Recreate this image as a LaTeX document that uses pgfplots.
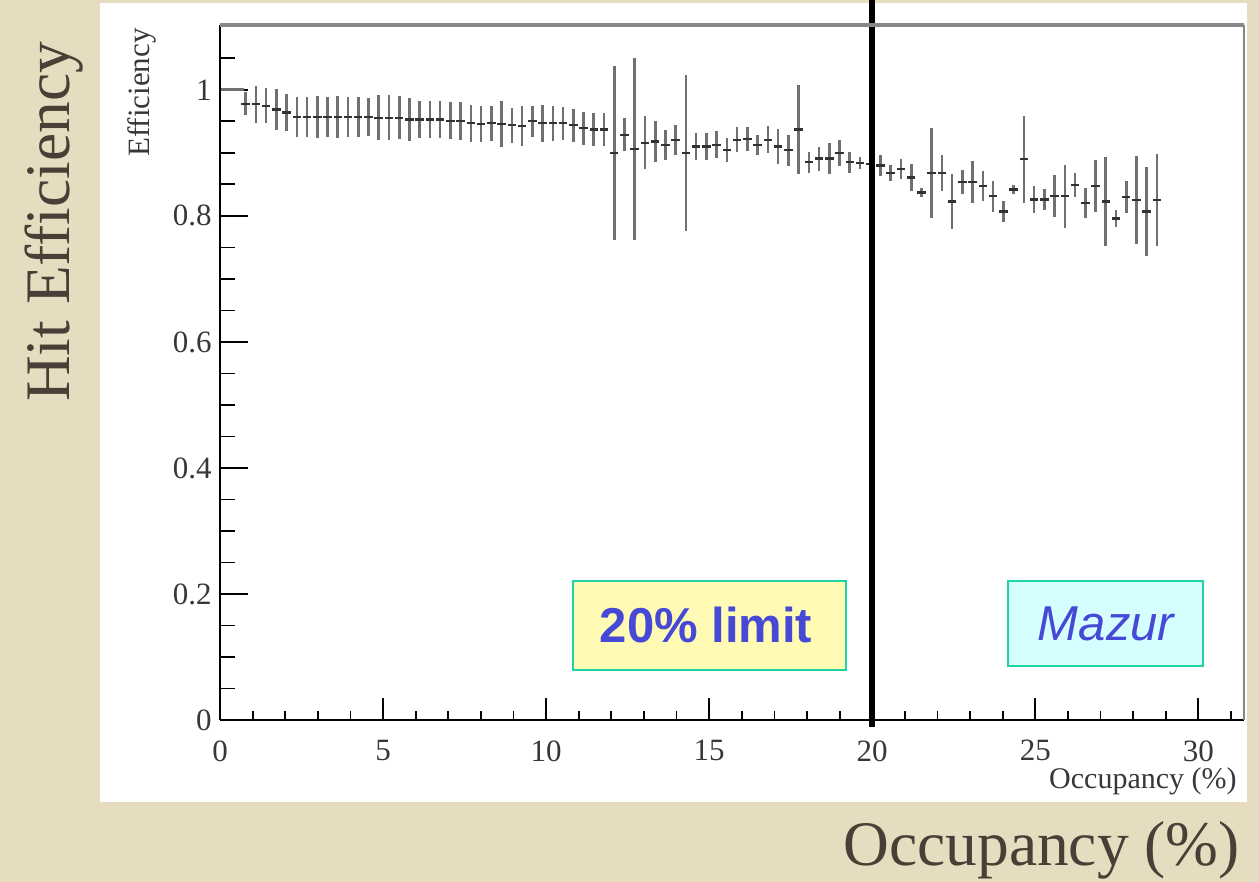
\documentclass[border=0pt]{standalone}
\usepackage{pgfplots}
\pgfplotsset{compat=1.18}
\usepackage{pgfplotstable}
\usepackage{fontspec}
\setmainfont{Liberation Serif}
\newfontfamily\boxfont{Liberation Sans}
\definecolor{bg}{RGB}{230,220,192}
\definecolor{slidetext}{RGB}{74,62,54}
\definecolor{boxblue}{RGB}{70,72,214}
\definecolor{boxedge}{RGB}{30,212,165}
\definecolor{yellowfill}{RGB}{255,251,180}
\definecolor{cyanfill}{RGB}{213,255,255}
\definecolor{errgray}{RGB}{112,112,112}
\definecolor{hbar}{RGB}{50,50,50}
\definecolor{ticklab}{RGB}{55,55,55}
\definecolor{framegray}{RGB}{135,135,135}

\pgfplotstableread{
x y ey
0.785 0.978 0.018
1.099 0.977 0.029
1.413 0.975 0.028
1.727 0.969 0.033
2.041 0.964 0.030
2.355 0.957 0.032
2.669 0.957 0.032
2.983 0.957 0.033
3.297 0.957 0.032
3.611 0.957 0.033
3.925 0.957 0.032
4.239 0.957 0.031
4.553 0.957 0.030
4.867 0.956 0.036
5.181 0.956 0.036
5.495 0.956 0.034
5.809 0.953 0.034
6.123 0.953 0.029
6.437 0.953 0.030
6.751 0.953 0.029
7.065 0.951 0.029
7.379 0.950 0.030
7.693 0.947 0.029
8.007 0.946 0.028
8.321 0.947 0.028
8.635 0.946 0.036
8.949 0.944 0.028
9.263 0.943 0.032
9.577 0.950 0.024
9.891 0.947 0.029
10.205 0.947 0.028
10.519 0.947 0.026
10.833 0.944 0.026
11.147 0.939 0.026
11.461 0.937 0.026
11.775 0.937 0.026
12.089 0.900 0.138
12.403 0.929 0.026
12.717 0.906 0.144
13.031 0.916 0.042
13.345 0.918 0.032
13.659 0.913 0.024
13.973 0.921 0.024
14.287 0.900 0.124
14.601 0.910 0.022
14.915 0.910 0.022
15.229 0.913 0.021
15.543 0.905 0.019
15.857 0.921 0.020
16.171 0.922 0.019
16.485 0.913 0.016
16.799 0.921 0.021
17.113 0.910 0.028
17.427 0.904 0.025
17.741 0.937 0.070
18.055 0.885 0.017
18.369 0.891 0.019
18.683 0.891 0.024
18.997 0.900 0.021
19.311 0.885 0.017
19.625 0.884 0.009
19.939 0.883 0.010
20.253 0.880 0.017
20.567 0.868 0.013
20.881 0.875 0.016
21.195 0.861 0.022
21.509 0.837 0.007
21.823 0.868 0.071
22.137 0.868 0.029
22.451 0.823 0.044
22.765 0.854 0.019
23.079 0.854 0.033
23.393 0.848 0.024
23.707 0.831 0.025
24.021 0.807 0.016
24.335 0.842 0.007
24.649 0.890 0.069
24.963 0.826 0.021
25.277 0.826 0.016
25.591 0.832 0.033
25.905 0.831 0.050
26.219 0.849 0.019
26.533 0.820 0.024
26.847 0.847 0.041
27.161 0.823 0.071
27.475 0.796 0.013
27.789 0.830 0.025
28.103 0.825 0.070
28.417 0.807 0.070
28.731 0.825 0.073
}\effdata

\begin{document}
\begin{tikzpicture}
\useasboundingbox (0,0) rectangle (629.5pt,441pt);
\begin{scope}[x=0.5pt,y=-0.5pt,shift={(0pt,441pt)}]
 \fill[bg] (0,0) rectangle (1259,882);
 \fill[white] (100,3) rectangle (1247,802);
 \node[rotate=90, anchor=base, font=\fontsize{31.7}{36}\selectfont, text=slidetext, inner sep=0pt] at (70,222) {Hit Efficiency};
 \node[anchor=base east, font=\fontsize{31.7}{36}\selectfont, text=slidetext, inner sep=0pt] at (1240,866) {Occupancy (\%)};
 \node[rotate=90, anchor=base east, font=\fontsize{15.5}{18}\selectfont, text=ticklab, inner sep=0pt] at (150,28) {Efficiency};
 \node[anchor=base east, font=\fontsize{15}{18}\selectfont, text=ticklab, inner sep=0pt] at (1237,789) {Occupancy (\%)};
\end{scope}

% axis with y ticks and data
\begin{axis}[
  at={(110pt,81pt)}, anchor=south west,
  width=512pt, height=347.5pt, scale only axis,
  xmin=0, xmax=31.4, ymin=0, ymax=1.103,
  clip=false,
  axis line style={draw=none},
  xtick=\empty,
  ytick={0,0.2,0.4,0.6,0.8,1},
  minor ytick={0.05,0.1,0.15,0.25,0.3,0.35,0.45,0.5,0.55,0.65,0.7,0.75,0.85,0.9,0.95,1.05},
  ytick pos=left, tick align=inside,
  major tick length=14pt, minor tick length=7.5pt,
  tick style={black, line width=0.9pt},
  /pgf/number format/assume math mode=true,
  yticklabel style={anchor=east, inner sep=0pt, xshift=-4pt, font=\fontsize{15.5}{18}\selectfont, text=ticklab},
]
\addplot[errgray, line width=1.6pt] coordinates {(0,1) (0.75,1)};
% vertical error bars
\addplot[draw=none, mark=none,
  error bars/.cd, y dir=both, y explicit, error mark=none,
  error bar style={line width=1.3pt, draw=errgray}]
  table[x=x, y=y, y error=ey] {\effdata};
% horizontal bin bars
\addplot[draw=none, mark=none,
  error bars/.cd, x dir=both, x fixed=0.13, error mark=none,
  error bar style={line width=1.1pt, draw=hbar}]
  table[x=x, y=y] {\effdata};
\addplot[black, line width=2.8pt] coordinates {(20,1.143) (20,-0.011)};
\draw[black, line width=1.2pt] (rel axis cs:0,0) -- (rel axis cs:0,1);
\draw[black, line width=1.3pt] (rel axis cs:0,0) -- (rel axis cs:1,0);
\draw[framegray, line width=2pt] (rel axis cs:0,1) -- (rel axis cs:1,1);
\draw[framegray, line width=1.1pt] (rel axis cs:1,0) -- (rel axis cs:1,1);
\end{axis}

% axis with x ticks only
\begin{axis}[
  at={(110pt,81pt)}, anchor=south west,
  width=512pt, height=347.5pt, scale only axis,
  xmin=0, xmax=31.4, ymin=0, ymax=1.103,
  axis line style={draw=none},
  ytick=\empty,
  xtick={0,5,10,15,20,25,30},
  minor xtick={1,2,3,4,6,7,8,9,11,12,13,14,16,17,18,19,21,22,23,24,26,27,28,29,31},
  xtick pos=bottom, tick align=inside,
  major tick length=11pt, minor tick length=4.5pt,
  tick style={black, line width=0.9pt},
  /pgf/number format/assume math mode=true,
  xticklabel style={anchor=north, inner sep=0pt, yshift=-10pt, font=\fontsize{15.5}{18}\selectfont, text=ticklab},
]
\end{axis}

\begin{scope}[x=0.5pt,y=-0.5pt,shift={(0pt,441pt)}]
 \draw[boxedge, line width=1.3pt, fill=yellowfill] (573,581) rectangle (846,670);
 \node[anchor=base, inner sep=0pt, font=\boxfont\bfseries\fontsize{24.5}{28}\selectfont, text=boxblue] at (706,643) {20\% limit};
 \draw[boxedge, line width=1.3pt, fill=cyanfill] (1008,581) rectangle (1203,666);
 \node[anchor=base, inner sep=0pt, font=\boxfont\itshape\fontsize{24.5}{28}\selectfont, text=boxblue] at (1106,641) {Mazur};
\end{scope}
\end{tikzpicture}
\end{document}
